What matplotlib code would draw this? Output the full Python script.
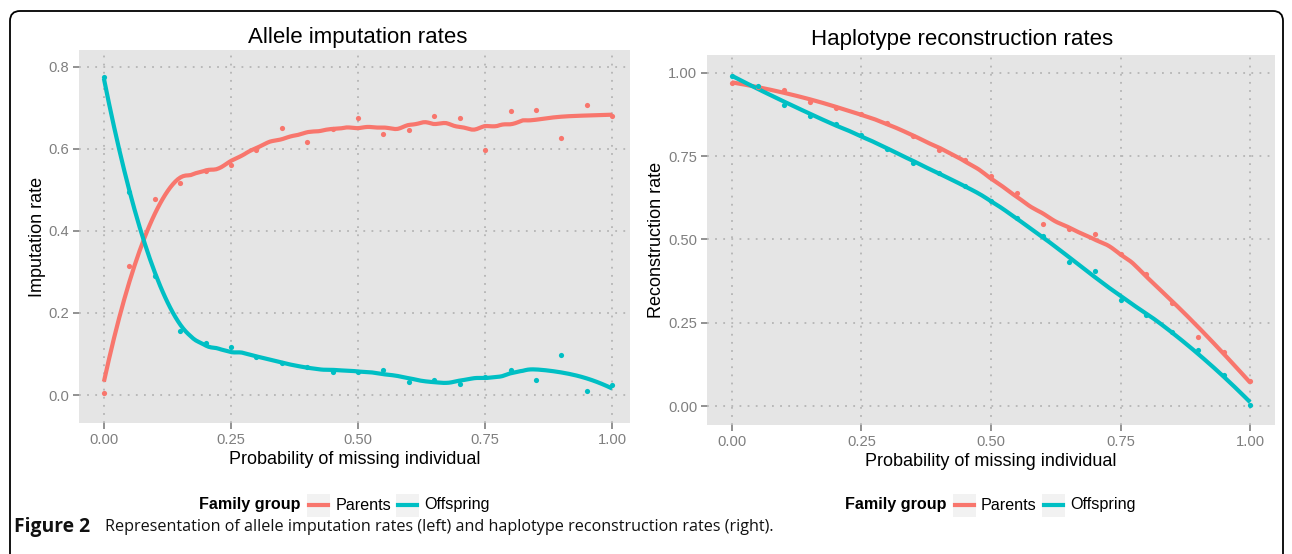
import numpy as np
import matplotlib
matplotlib.use("Agg")
import matplotlib.pyplot as plt
from matplotlib.patches import FancyBboxPatch, Rectangle
from matplotlib.lines import Line2D
import matplotlib.transforms as mtransforms

# ---------------- data ----------------
prob = [0.00, 0.05, 0.10, 0.15, 0.20, 0.25, 0.30, 0.35, 0.40, 0.45, 0.50,
        0.55, 0.60, 0.65, 0.70, 0.75, 0.80, 0.85, 0.90, 0.95, 1.00]

impute_parents = [0.005, 0.314, 0.478, 0.516, 0.545, 0.560, 0.596, 0.651, 0.616, 0.647, 0.674,
                  0.635, 0.645, 0.679, 0.675, 0.598, 0.692, 0.695, 0.627, 0.707, 0.679]
impute_offspring = [0.776, 0.494, 0.290, 0.156, 0.127, 0.116, 0.092, 0.079, 0.069, 0.057, 0.057,
                    0.061, 0.032, 0.036, 0.028, 0.045, 0.061, 0.036, 0.097, 0.011, 0.024]

recon_parents = [0.969, 0.958, 0.947, 0.911, 0.895, 0.877, 0.850, 0.809, 0.767, 0.737, 0.691,
                 0.639, 0.547, 0.532, 0.517, 0.455, 0.396, 0.309, 0.206, 0.163, 0.076]
recon_offspring = [0.990, 0.959, 0.904, 0.870, 0.847, 0.814, 0.770, 0.729, 0.700, 0.660, 0.615,
                   0.564, 0.509, 0.433, 0.406, 0.318, 0.273, 0.223, 0.168, 0.093, 0.003]

groups = ["Parents", "Offspring"]
colors = ["#F8766D", "#00BFC4"]

left_yticks = [0.0, 0.2, 0.4, 0.6, 0.8]
left_yticklabels = ["0.0", "0.2", "0.4", "0.6", "0.8"]
right_yticks = [0.0, 0.25, 0.5, 0.75, 1.0]
right_yticklabels = ["0.00", "0.25", "0.50", "0.75", "1.00"]
xticks = [0.0, 0.25, 0.5, 0.75, 1.0]
xticklabels = ["0.00", "0.25", "0.50", "0.75", "1.00"]


def loess(x, y, xs, span, degree=2):
    x = np.asarray(x, float)
    y = np.asarray(y, float)
    n = len(x)
    q = int(np.ceil(span * n))
    out = []
    for x0 in xs:
        d = np.abs(x - x0)
        h = np.sort(d)[q - 1] * 1.0001
        w = np.clip(1 - (d / h) ** 3, 0, None) ** 3
        W = np.sqrt(w)
        A = np.vstack([(x - x0) ** k for k in range(degree + 1)]).T
        coef, *_ = np.linalg.lstsq(A * W[:, None], y * W, rcond=None)
        out.append(coef[0])
    return np.array(out)


W_PX, H_PX = 1292, 554
fig = plt.figure(figsize=(W_PX / 100, H_PX / 100), dpi=100)
fig.patch.set_facecolor("white")
renderer = fig.canvas.get_renderer()


def axes_px(x0, y0, x1, y1):
    return fig.add_axes([x0 / W_PX, 1 - y1 / H_PX, (x1 - x0) / W_PX, (y1 - y0) / H_PX])


FONT = ["Liberation Sans", "DejaVu Sans"]
CAPFONT = ["Open Sans", "DejaVu Sans"]
GRID = "#B5B5B5"
TICKC = "#7F7F7F"


def style(ax, yticks, yticklabels):
    ax.set_facecolor("#E5E5E5")
    for s in ax.spines.values():
        s.set_visible(False)
    ax.set_xticks(xticks)
    ax.set_xticklabels(xticklabels, fontfamily=FONT)
    ax.set_yticks(yticks)
    ax.set_yticklabels(yticklabels, fontfamily=FONT)
    ax.tick_params(axis="both", colors=TICKC, labelcolor=TICKC, labelsize=10.6,
                   length=4, width=1.2, pad=3)
    ax.grid(True, color=GRID, linestyle=(0, (1, 3.5)), linewidth=1.3)
    ax.set_axisbelow(True)


xs = np.linspace(0, 1, 200)

# ---------- left panel ----------
axL = axes_px(79, 50, 630, 423)
style(axL, left_yticks, left_yticklabels)
for vals, c in zip([impute_parents, impute_offspring], colors):
    axL.plot(xs, loess(prob, vals, xs, 0.36), color=c, lw=3.0, solid_capstyle="butt", zorder=3)
    axL.scatter(prob, vals, s=14, color=c, zorder=4, linewidths=0)
axL.set_xlim(-0.049, 1.035)
axL.set_ylim(-0.068, 0.8406)
axL.set_xlabel("Probability of missing individual", fontfamily=FONT, fontsize=13, labelpad=3)
axL.set_ylabel("Imputation rate", fontfamily=FONT, fontsize=13, labelpad=2)

# ---------- right panel ----------
axR = axes_px(707, 55, 1275, 425)
style(axR, right_yticks, right_yticklabels)
for vals, c in zip([recon_parents, recon_offspring], colors):
    axR.plot(xs, loess(prob, vals, xs, 0.45), color=c, lw=3.0, solid_capstyle="butt", zorder=3)
    axR.scatter(prob, vals, s=14, color=c, zorder=4, linewidths=0)
axR.set_xlim(-0.048, 1.048)
axR.set_ylim(-0.057, 1.053)
axR.set_xlabel("Probability of missing individual", fontfamily=FONT, fontsize=13, labelpad=3)
axR.set_ylabel("Reconstruction rate", fontfamily=FONT, fontsize=13, labelpad=2)

# ---------- titles (centred over each whole sub-figure, as in old ggplot2) ----------
fig.text(358 / W_PX, 1 - 37 / H_PX, "Allele imputation rates", fontfamily=FONT,
         fontsize=16, ha="center", va="center")
fig.text(962 / W_PX, 1 - 40 / H_PX, "Haplotype reconstruction rates", fontfamily=FONT,
         fontsize=16, ha="center", va="center")


def text_width(t):
    return t.get_window_extent(renderer=renderer).width


# ---------- legends ----------
def legend_centered(cx, y):
    yf = 1 - y / H_PX
    items = []
    t = fig.text(0, yf, "Family group", fontfamily=FONT, fontweight="bold",
                 fontsize=11.6, va="center", ha="left")
    items.append(("text", t, text_width(t), 7))
    for g, c in zip(groups, colors):
        items.append(("key", c, 23, 5))
        t = fig.text(0, yf, g, fontfamily=FONT, fontsize=11.6, va="center", ha="left")
        items.append(("text", t, text_width(t), 5))
    total = sum(w + gap for _, _, w, gap in items) - items[-1][3]
    x = cx - total / 2
    for kind, obj, w, gap in items:
        if kind == "text":
            obj.set_x(x / W_PX)
        else:
            fig.patches.append(Rectangle((x / W_PX, (H_PX - y - 11.5) / H_PX), w / W_PX, 23 / H_PX,
                                         transform=fig.transFigure, facecolor="#F2F2F2",
                                         edgecolor="none"))
            fig.lines.append(Line2D([(x + 2) / W_PX, (x + w - 2) / W_PX], [yf, yf],
                                    transform=fig.transFigure, color=obj, lw=3))
        x += w + gap


legend_centered(344, 505)
legend_centered(990, 505)

# ---------- caption ----------
cap_y = 1 - 527 / H_PX
t_reg = fig.text(105 / W_PX, cap_y,
                 "Representation of allele imputation rates (left) and haplotype reconstruction rates (right).",
                 fontfamily=CAPFONT, fontsize=12, va="center", ha="left", color="#111111")
w = text_width(t_reg)
cap_size = 12 * 662 / w
t_reg.set_fontsize(cap_size)
t_bold = fig.text(14 / W_PX, cap_y, "Figure 2", fontfamily=CAPFONT, fontweight="bold",
                  fontsize=cap_size, va="center", ha="left", color="#111111")
wb = text_width(t_bold)
t_bold.set_fontsize(min(cap_size * 84 / wb, cap_size * 1.2))

# ---------- outer rounded frame ----------
frame = FancyBboxPatch((10, -60), 1273, 554 - 11 + 60,
                       boxstyle="round,pad=0,rounding_size=10",
                       transform=mtransforms.IdentityTransform(),
                       facecolor="none", edgecolor="black", linewidth=1.3)
fig.patches.append(frame)

fig.savefig("out.png", dpi=100)
